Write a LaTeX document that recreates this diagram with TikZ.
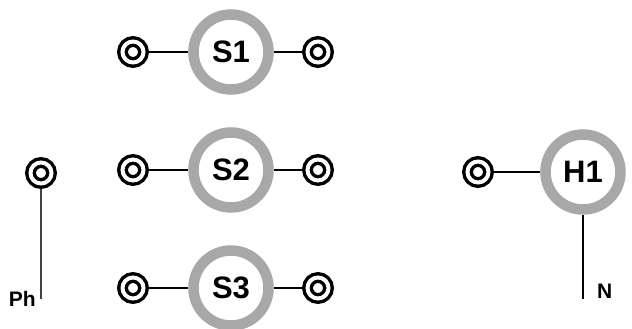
\documentclass[tikz,border=0pt]{standalone}
\usepackage{fontspec}
\setmainfont{Liberation Sans}
\usetikzlibrary{positioning}

\begin{document}
\begin{tikzpicture}[
    x=1pt, y=-1pt,
    every node/.style={font=\bfseries},
    hub/.style={circle, draw=ringgray, line width=10.5pt, minimum size=75pt,
        inner sep=0pt, font=\fontsize{31}{33}\selectfont\bfseries},
    port/.style={circle, draw=black, line width=3.4pt, double=white,
        double distance=4pt, minimum size=21pt, inner sep=0pt, outer sep=5.4pt},
    link/.style={draw=black, line width=1.7pt},
    tag/.style={font=\fontsize{21}{23}\selectfont\bfseries, inner sep=0pt},
]

\definecolor{ringgray}{HTML}{A8A8A8}

% ================================================================
%   page 632 x 329, one unit = one pixel, y runs down
%   S rows at y = 52, 170, 288     H1 at (583, 172)
% ================================================================
\useasboundingbox (0,0) rectangle (632,329);

% ---------------------------------------------------------------- S1 .. S3
\foreach \n/\y in {1/52, 2/170, 3/288} {
    \node[hub] (s\n) at (231,\y) {S\n};
    \node[port] (s\n-l) at (133,\y) {};
    \node[port] (s\n-r) at (318,\y) {};
    \draw[link] (s\n-l) -- (s\n);
    \draw[link] (s\n) -- (s\n-r);
}

% ---------------------------------------------------------------- Ph
\node[port] (ph) at (41,173) {};
\coordinate (ph-end) at (41,299);
\draw[link, draw=black!75] (ph) -- (ph-end);
\node[tag, anchor=base east] (ph-tag) at (36,306) {Ph};

% ---------------------------------------------------------------- H1
\node[hub] (h1) at (583,172) {H1};
\node[port] (h1-l) at (478,172) {};
\draw[link] (h1-l) -- (h1);
\coordinate (h1-end) at (583,299);
\draw[link] (h1) -- (h1-end);
\node[tag, anchor=base west] (n-tag) at (597,298) {N};

\end{tikzpicture}
\end{document}
